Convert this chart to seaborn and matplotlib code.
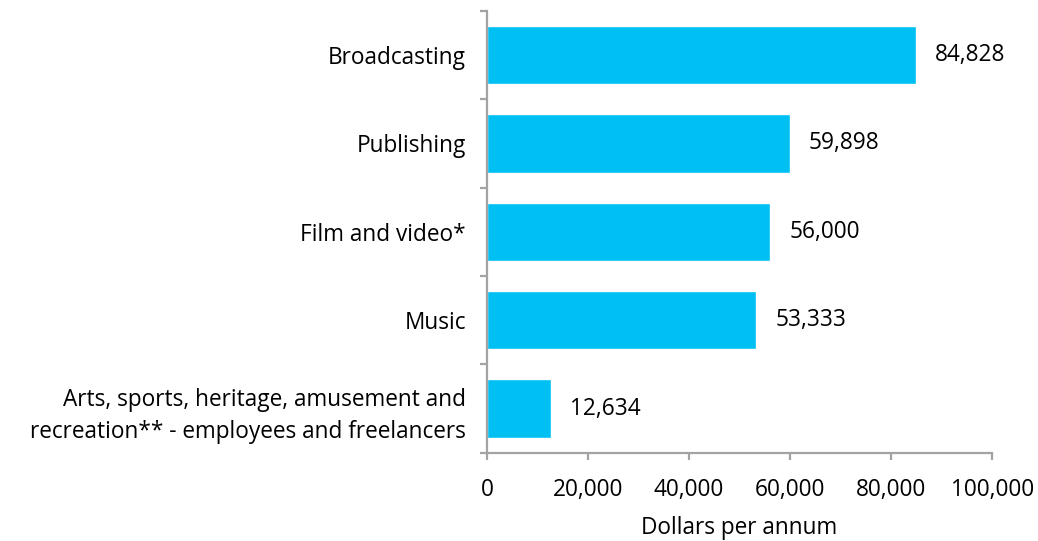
import matplotlib
matplotlib.use("Agg")
import matplotlib.pyplot as plt
from matplotlib.ticker import FixedLocator, FuncFormatter
import seaborn as sns
import pandas as pd

categories = [
    "Broadcasting",
    "Publishing",
    "Film and video*",
    "Music",
    "Arts, sports, heritage, amusement and\nrecreation** - employees and freelancers",
]
values = [84828, 59898, 56000, 53333, 12634]
x_ticks = [0, 20000, 40000, 60000, 80000, 100000]

sns.set_theme(style="white")
plt.rcParams["font.family"] = ["Open Sans", "DejaVu Sans"]

df = pd.DataFrame({"category": categories, "value": values})

fig = plt.figure(figsize=(10.38, 5.41), dpi=100)
ax = fig.add_axes([0.469, 0.163, 0.487, 0.817])

sns.barplot(data=df, x="value", y="category", orient="h", color="#00BFF3",
            saturation=1, width=0.66, ax=ax)

axis_grey = "#A3A3A3"
fs = 16.3
ax.set_xlim(0, 100000)
ax.set_ylim(len(categories) - 0.5, -0.5)
for side in ("top", "right"):
    ax.spines[side].set_visible(False)
for side in ("left", "bottom"):
    ax.spines[side].set_color(axis_grey)
    ax.spines[side].set_linewidth(1.6)

ax.xaxis.set_major_locator(FixedLocator(x_ticks))
ax.xaxis.set_major_formatter(FuncFormatter(lambda v, p: f"{int(v):,}"))
ax.tick_params(axis="x", which="major", direction="out", length=5, width=1.6,
               color=axis_grey, labelsize=fs, pad=13, labelcolor="black",
               bottom=True)

ax.yaxis.set_minor_locator(FixedLocator([i - 0.5 for i in range(len(categories) + 1)]))
ax.tick_params(axis="y", which="minor", direction="out", length=5, width=1.6,
               color=axis_grey, left=True)
ax.tick_params(axis="y", which="major", length=0, labelsize=fs, pad=15,
               labelcolor="black")
for lbl in ax.get_yticklabels():
    lbl.set_linespacing(1.45)

ax.set_ylabel("")
ax.set_xlabel("Dollars per annum", fontsize=fs, labelpad=10, color="black")

for container in ax.containers:
    ax.bar_label(container, labels=[f"{v:,}" for v in values], padding=14,
                 fontsize=fs, color="black")

fig.savefig("out.png", dpi=100)
